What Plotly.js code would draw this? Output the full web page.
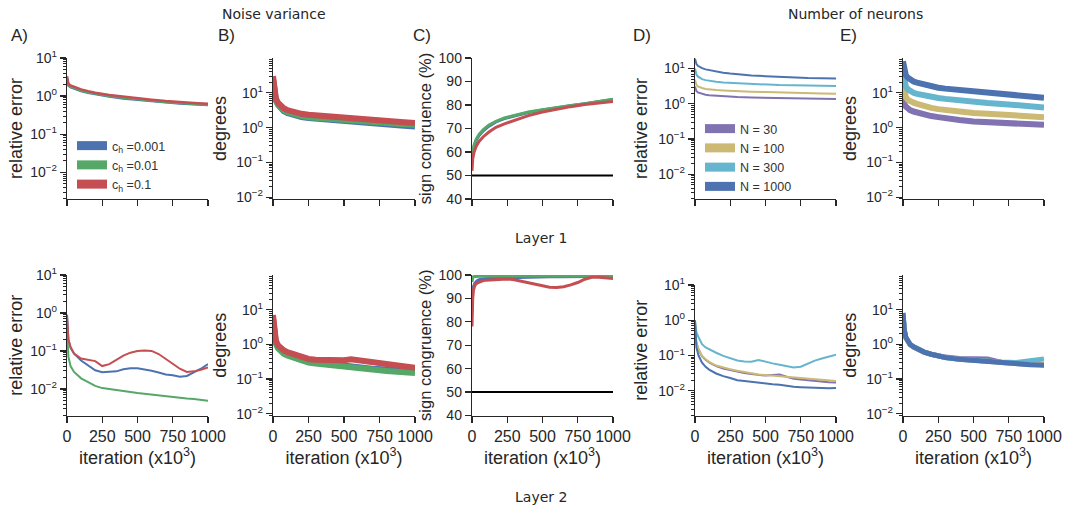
<!DOCTYPE html>
<html><head><meta charset="utf-8">
<script src="https://cdn.plot.ly/plotly-3.0.1.min.js"></script>
<style>html,body{margin:0;padding:0;background:#fff}#chart{width:1068px;height:508px}</style>
</head><body><div id="chart"></div>
<script>
// ---------- DATA ----------
const xTickVals = [0, 250, 500, 750, 1000];
const xTickText = ['0', '250', '500', '750', '1000'];
const logTickVals = [0.01, 0.1, 1, 10];
const logTickText = ['10<sup>−2</sup>', '10<sup>−1</sup>', '10<sup>0</sup>', '10<sup>1</sup>'];
const scTickVals = [40, 50, 60, 70, 80, 90, 100];
const chanceLevel = 50;
const iterSpan = [0, 1000];

const noiseLabels = ['c<sub>h</sub> =0.001', 'c<sub>h</sub> =0.01', 'c<sub>h</sub> =0.1'];
const neuronLabels = ['N = 30', 'N = 100', 'N = 300', 'N = 1000'];

// Layer 1 - noise variance
const itA1 = [0,3,10,25,50,100,150,200,300,400,500,600,700,800,900,1000];
const relErrL1_c001 = [2.8,2.2,1.9,1.72,1.58,1.36,1.22,1.12,0.97,0.87,0.8,0.73,0.68,0.64,0.61,0.58];
const relErrL1_c01  = [3.0,2.3,1.95,1.78,1.63,1.4,1.26,1.15,1.0,0.9,0.82,0.75,0.7,0.66,0.62,0.59];
const relErrL1_c1   = [3.3,2.5,2.1,1.9,1.75,1.5,1.35,1.23,1.07,0.96,0.87,0.8,0.74,0.69,0.66,0.63];

const itNoisy = [0,5,10,20,35,50,75,100,150,200,250,300,400,500,600,700,800,900,1000];
const angleL1_c001 = [24,12,8.5,6,4.5,3.7,3.0,2.65,2.2,2.0,1.88,1.8,1.68,1.58,1.47,1.36,1.25,1.16,1.08];
const angleL1_c01  = [26,13,9,6.3,4.7,3.9,3.2,2.8,2.35,2.15,2.0,1.92,1.8,1.7,1.58,1.47,1.36,1.27,1.2];
const angleL1_c1   = [30,15,10,7,5.2,4.3,3.6,3.2,2.7,2.5,2.35,2.25,2.15,2.05,1.9,1.75,1.6,1.45,1.35];

const itSC1 = [0,5,15,30,50,80,120,170,230,300,400,500,600,700,800,900,1000];
const signL1_c001 = [57,59.5,62.5,65,67,69,71,72.8,74.2,75.3,76.8,77.9,78.9,79.7,80.5,81.5,82.3];
const signL1_c01  = [58,60,63,65.5,67.5,69.5,71.5,73,74.5,75.5,77,78,79,79.8,80.5,81.5,82.5];
const signL1_c1   = [52,57,60,62.5,64.5,66.5,68.5,70.5,72,73.5,75.5,77,78.3,79.3,80.2,81,81.5];

// Layer 1 - number of neurons
const relErrL1_N30   = [3.1,2.5,2.3,2.1,2.0,1.9,1.8,1.75,1.68,1.62,1.58,1.55,1.5,1.47,1.44,1.42,1.40,1.38,1.37];
const relErrL1_N100  = [4.8,3.8,3.4,3.1,2.9,2.8,2.65,2.55,2.45,2.38,2.32,2.28,2.2,2.15,2.08,2.03,1.98,1.95,1.92];
const relErrL1_N300  = [10,7.5,6.8,6.0,5.4,5.0,4.7,4.5,4.2,4.0,3.9,3.8,3.6,3.5,3.4,3.35,3.3,3.25,3.2];
const relErrL1_N1000 = [19,15,13.5,12,11,10.3,9.5,9.0,8.2,7.6,7.2,6.9,6.4,6.1,5.8,5.6,5.4,5.3,5.2];

const angleL1_N30   = [10,6,4.8,4.0,3.5,3.2,2.9,2.7,2.4,2.15,2.0,1.85,1.65,1.5,1.42,1.36,1.3,1.25,1.2];
const angleL1_N100  = [20,12,9.5,7.5,6.3,5.7,5.2,4.8,4.1,3.7,3.4,3.2,2.9,2.65,2.5,2.35,2.2,2.1,2.0];
const angleL1_N300  = [40,25,19,15,12.5,11,10,9.3,8.3,7.6,7.1,6.7,6.0,5.5,5.1,4.8,4.5,4.1,3.8];
const angleL1_N1000 = [80,50,40,32,27,24,21,19.5,17,15.5,14,13.2,12,11,10.2,9.5,8.8,8.0,7.2];

// Layer 2 - noise variance
const itA2 = [0,5,10,25,50,100,150,200,250,300,350,400,450,500,550,600,650,700,750,800,850,900,950,1000];
const relErrL2_c001 = [0.9,0.3,0.2,0.12,0.085,0.056,0.042,0.031,0.0275,0.028,0.029,0.033,0.035,0.035,0.033,0.030,0.027,0.024,0.023,0.021,0.022,0.027,0.034,0.045];
const relErrL2_c01  = [0.4,0.12,0.07,0.04,0.028,0.019,0.015,0.012,0.0105,0.0098,0.0093,0.0088,0.0083,0.0078,0.0074,0.0070,0.0066,0.0063,0.0061,0.0059,0.0056,0.0054,0.0051,0.0049];
const relErrL2_c1   = [0.9,0.3,0.2,0.13,0.085,0.063,0.058,0.054,0.040,0.045,0.058,0.075,0.09,0.1,0.102,0.1,0.083,0.063,0.046,0.034,0.028,0.029,0.032,0.037];

const itB2 = [0,5,10,20,35,50,75,100,150,200,250,300,400,500,550,600,650,700,800,900,1000];
const angleL2_c001 = [5.5,2.5,1.7,1.12,0.82,0.68,0.58,0.51,0.42,0.36,0.32,0.3,0.27,0.24,0.23,0.22,0.21,0.2,0.19,0.18,0.17];
const angleL2_c01  = [5,2.3,1.6,1.05,0.78,0.64,0.54,0.48,0.4,0.34,0.3,0.28,0.25,0.22,0.21,0.2,0.19,0.18,0.17,0.16,0.15];
const angleL2_c1   = [7,3,2,1.3,0.95,0.8,0.68,0.6,0.5,0.43,0.38,0.36,0.34,0.35,0.37,0.35,0.32,0.29,0.26,0.23,0.21];

const itSC2 = [0,2,5,10,20,35,50,75,100,150,200,250,300,350,400,450,500,550,600,650,700,750,800,850,900,950,1000];
const signL2_c001 = [85,90,93,95,96.5,97.5,98,98.3,98.5,98.7,98.8,98.9,99,99,99.1,99.1,99.2,99.2,99.2,99.3,99.3,99.3,99.4,99.4,99.4,99.4,99.4];
const signL2_c01  = [97,98.5,99,99.3,99.4,99.5,99.5,99.5,99.6,99.6,99.6,99.6,99.6,99.6,99.6,99.6,99.6,99.6,99.6,99.6,99.6,99.6,99.6,99.6,99.6,99.6,99.6];
const signL2_c1   = [78,85,90,93.5,95.5,96.5,97,97.5,97.8,98,98.2,98.3,98,97.4,96.7,96,95.3,94.8,94.7,95,95.8,96.8,98.2,99,99,98.7,98.5];

// Layer 2 - number of neurons
const itD2 = [0,5,10,25,50,75,100,150,200,250,300,350,400,450,500,550,600,650,700,750,800,850,900,950,1000];
const relErrL2_N30   = [0.5,0.3,0.22,0.15,0.095,0.076,0.064,0.05,0.043,0.039,0.035,0.032,0.03,0.028,0.027,0.028,0.029,0.025,0.022,0.021,0.020,0.019,0.018,0.0175,0.0172];
const relErrL2_N100  = [0.5,0.3,0.22,0.15,0.097,0.078,0.066,0.052,0.045,0.041,0.037,0.034,0.031,0.029,0.028,0.027,0.026,0.025,0.024,0.023,0.022,0.021,0.020,0.0195,0.019];
const relErrL2_N300  = [1.0,0.6,0.45,0.33,0.21,0.17,0.15,0.12,0.098,0.083,0.072,0.068,0.067,0.075,0.066,0.06,0.055,0.05,0.046,0.048,0.06,0.072,0.082,0.093,0.105];
const relErrL2_N1000 = [1.0,0.25,0.17,0.1,0.063,0.048,0.04,0.031,0.026,0.023,0.02,0.019,0.0178,0.0168,0.016,0.0153,0.0148,0.0138,0.013,0.0127,0.0124,0.0121,0.0118,0.0118,0.0120];

const angleL2_N30   = [7,3.3,2.4,1.55,1.15,0.98,0.84,0.74,0.6,0.52,0.46,0.43,0.39,0.37,0.38,0.3,0.28,0.27,0.26];
const angleL2_N100  = [7.5,3.4,2.4,1.55,1.15,0.98,0.84,0.74,0.6,0.52,0.46,0.42,0.37,0.34,0.32,0.3,0.28,0.27,0.26];
const angleL2_N300  = [8,3.5,2.5,1.6,1.2,1.0,0.85,0.75,0.6,0.52,0.46,0.42,0.37,0.34,0.32,0.31,0.3,0.33,0.38];
const angleL2_N1000 = [8,3.5,2.5,1.6,1.2,1.0,0.85,0.75,0.6,0.52,0.46,0.42,0.37,0.34,0.32,0.3,0.28,0.26,0.25];

// ---------- STYLE ----------
const C = {blue:'#4C72B0', green:'#55A868', red:'#C44E52', purple:'#8172B2', gold:'#CCB974', cyan:'#64B5CD'};
const ink = '#262626';
const FONT = 'Liberation Sans, Arial, sans-serif';
const W = 1068, H = 508;
const thin = 2, band = 6;

function ln(x, y, color, width, xa, ya) {
  return {x, y, type:'scatter', mode:'lines', line:{color, width}, xaxis:xa, yaxis:ya, showlegend:false, hoverinfo:'skip'};
}
function legendItem(name, color, legend) {
  return {x:[null], y:[null], type:'scatter', mode:'lines', name, line:{color, width:9}, legend, showlegend:true, hoverinfo:'skip', xaxis:'x', yaxis:'y'};
}

const traces = [
  // A top
  ln(itA1, relErrL1_c001, C.blue, 2.5, 'x', 'y'),
  ln(itA1, relErrL1_c01, C.green, 2.5, 'x', 'y'),
  ln(itA1, relErrL1_c1, C.red, 2.5, 'x', 'y'),
  // B top
  ln(itNoisy, angleL1_c001, C.blue, band, 'x2', 'y2'),
  ln(itNoisy, angleL1_c01, C.green, band, 'x2', 'y2'),
  ln(itNoisy, angleL1_c1, C.red, band, 'x2', 'y2'),
  // C top
  ln(iterSpan, [chanceLevel, chanceLevel], '#000', 2, 'x3', 'y3'),
  ln(itSC1, signL1_c001, C.blue, 3, 'x3', 'y3'),
  ln(itSC1, signL1_c01, C.green, 3, 'x3', 'y3'),
  ln(itSC1, signL1_c1, C.red, 3, 'x3', 'y3'),
  // D top
  ln(itNoisy, relErrL1_N30, C.purple, thin, 'x4', 'y4'),
  ln(itNoisy, relErrL1_N100, C.gold, thin, 'x4', 'y4'),
  ln(itNoisy, relErrL1_N300, C.cyan, thin, 'x4', 'y4'),
  ln(itNoisy, relErrL1_N1000, C.blue, thin, 'x4', 'y4'),
  // E top
  ln(itNoisy, angleL1_N30, C.purple, band, 'x5', 'y5'),
  ln(itNoisy, angleL1_N100, C.gold, band, 'x5', 'y5'),
  ln(itNoisy, angleL1_N300, C.cyan, band, 'x5', 'y5'),
  ln(itNoisy, angleL1_N1000, C.blue, band, 'x5', 'y5'),
  // A bottom
  ln(itA2, relErrL2_c001, C.blue, thin, 'x6', 'y6'),
  ln(itA2, relErrL2_c01, C.green, thin, 'x6', 'y6'),
  ln(itA2, relErrL2_c1, C.red, thin, 'x6', 'y6'),
  // B bottom
  ln(itB2, angleL2_c001, C.blue, band, 'x7', 'y7'),
  ln(itB2, angleL2_c01, C.green, band, 'x7', 'y7'),
  ln(itB2, angleL2_c1, C.red, band, 'x7', 'y7'),
  // C bottom
  ln(iterSpan, [chanceLevel, chanceLevel], '#000', 2, 'x8', 'y8'),
  ln(itSC2, signL2_c001, C.blue, 3, 'x8', 'y8'),
  ln(itSC2, signL2_c01, C.green, 3, 'x8', 'y8'),
  ln(itSC2, signL2_c1, C.red, 3, 'x8', 'y8'),
  // D bottom
  ln(itD2, relErrL2_N30, C.purple, thin, 'x9', 'y9'),
  ln(itD2, relErrL2_N100, C.gold, thin, 'x9', 'y9'),
  ln(itD2, relErrL2_N300, C.cyan, thin, 'x9', 'y9'),
  ln(itD2, relErrL2_N1000, C.blue, thin, 'x9', 'y9'),
  // E bottom
  ln(itNoisy, angleL2_N30, C.purple, 5, 'x10', 'y10'),
  ln(itNoisy, angleL2_N100, C.gold, 5, 'x10', 'y10'),
  ln(itNoisy, angleL2_N300, C.cyan, 5, 'x10', 'y10'),
  ln(itNoisy, angleL2_N1000, C.blue, 5, 'x10', 'y10'),
  // legends
  legendItem(noiseLabels[0], C.blue, 'legend'),
  legendItem(noiseLabels[1], C.green, 'legend'),
  legendItem(noiseLabels[2], C.red, 'legend'),
  legendItem(neuronLabels[0], C.purple, 'legend2'),
  legendItem(neuronLabels[1], C.gold, 'legend2'),
  legendItem(neuronLabels[2], C.cyan, 'legend2'),
  legendItem(neuronLabels[3], C.blue, 'legend2'),
];

// ---------- LAYOUT ----------
const minorLogVals = [];
for (let e = -3; e <= 1; e++) for (let d = 2; d <= 9; d++) minorLogVals.push(d * Math.pow(10, e));

const px = (a, b) => [a / W, b / W];
const py = (top, bottom) => [1 - bottom / H, 1 - top / H];

function xAx(domain, anchor, labels) {
  const a = {domain, anchor, range:[0, 1000], tickmode:'array', tickvals:xTickVals, ticktext:xTickText,
    showticklabels:labels, ticks:'outside', ticklen:6, tickwidth:1.25, tickcolor:ink,
    showline:true, linecolor:ink, linewidth:1.25, showgrid:false, zeroline:false,
    tickfont:{family:FONT, size:16, color:ink}, fixedrange:true};
  if (labels) a.title = {text:'iteration (x10<sup>3</sup>)', font:{family:FONT, size:18, color:ink}, standoff:4};
  return a;
}
function yLog(domain, anchor, range, title, standoff) {
  return {domain, anchor, type:'log', range, tickmode:'array', tickvals:logTickVals, ticktext:logTickText,
    ticks:'outside', ticklen:6, tickwidth:1.25, tickcolor:ink,
    minor:{tickmode:'array', tickvals:minorLogVals, ticks:'outside', ticklen:3, tickwidth:1, tickcolor:ink, showgrid:false},
    showline:true, linecolor:ink, linewidth:1.25, showgrid:false, zeroline:false,
    tickfont:{family:FONT, size:14, color:ink},
    title:{text:title, font:{family:FONT, size:18, color:ink}, standoff}, fixedrange:true};
}
function yLin(domain, anchor) {
  return {domain, anchor, range:[40, 100], tickmode:'array', tickvals:scTickVals,
    ticks:'outside', ticklen:6, tickwidth:1.25, tickcolor:ink,
    showline:true, linecolor:ink, linewidth:1.25, showgrid:false, zeroline:false,
    tickfont:{family:FONT, size:14, color:ink},
    title:{text:'sign congruence (%)', font:{family:FONT, size:16.5, color:ink}, standoff:2}, fixedrange:true};
}

const dA = px(67, 208), dB = px(273, 415), dC = px(472, 613), dD = px(695, 836), dE = px(903, 1044);
const rTop = py(58, 199), rBot = py(275, 415.5), rBotD = py(285, 415.5);

function ann(text, x, y, size, family, xanchor) {
  return {text, x:x / W, y:1 - y / H, xref:'paper', yref:'paper', showarrow:false,
    xanchor:xanchor || 'center', yanchor:'middle', font:{family, size, color:ink}};
}
const DJ = 'DejaVu Sans, sans-serif';

const layout = {
  width:W, height:H, margin:{l:0, r:0, t:0, b:0}, paper_bgcolor:'#fff', plot_bgcolor:'#fff',
  showlegend:true,
  xaxis:xAx(dA, 'y', false),  yaxis:yLog(rTop, 'x', [-2.7, 1], 'relative error', 3),
  xaxis2:xAx(dB, 'y2', false), yaxis2:yLog(rTop, 'x2', [-2.05, 2], 'degrees', 5),
  xaxis3:xAx(dC, 'y3', false), yaxis3:yLin(rTop, 'x3'),
  xaxis4:xAx(dD, 'y4', false), yaxis4:yLog(rTop, 'x4', [-2.7, 1.3], 'relative error', 6),
  xaxis5:xAx(dE, 'y5', false), yaxis5:yLog(rTop, 'x5', [-2.05, 2], 'degrees', 5),
  xaxis6:xAx(dA, 'y6', true),  yaxis6:yLog(rBot, 'x6', [-2.7, 1], 'relative error', 3),
  xaxis7:xAx(dB, 'y7', true),  yaxis7:yLog(rBot, 'x7', [-2.05, 2], 'degrees', 5),
  xaxis8:xAx(dC, 'y8', true),  yaxis8:yLin(rBot, 'x8'),
  xaxis9:xAx(dD, 'y9', true),  yaxis9:yLog(rBotD, 'x9', [-2.7, 1], 'relative error', 6),
  xaxis10:xAx(dE, 'y10', true), yaxis10:yLog(rBot, 'x10', [-2.05, 2], 'degrees', 5),
  legend:{x:72 / W, y:1 - 131 / H, xanchor:'left', yanchor:'top', bgcolor:'rgba(0,0,0,0)',
    font:{family:FONT, size:12.5, color:'#333'}, itemwidth:30, tracegroupgap:0},
  legend2:{x:700 / W, y:1 - 114 / H, xanchor:'left', yanchor:'top', bgcolor:'rgba(0,0,0,0)',
    font:{family:FONT, size:12.5, color:'#333'}, itemwidth:30, tracegroupgap:0},
  annotations:[
    ann('Noise variance', 274, 14, 14, DJ),
    ann('Number of neurons', 855, 14, 14, DJ),
    ann('Layer 1', 541, 238, 14, DJ),
    ann('Layer 2', 541, 497, 14, DJ),
    ann('A)', 9, 36, 17, FONT, 'left'),
    ann('B)', 216, 36, 17, FONT, 'left'),
    ann('C)', 411, 36, 17, FONT, 'left'),
    ann('D)', 631, 36, 17, FONT, 'left'),
    ann('E)', 838, 36, 17, FONT, 'left'),
  ],
};

Plotly.newPlot('chart', traces, layout, {displayModeBar:false, staticPlot:true});
</script></body></html>
